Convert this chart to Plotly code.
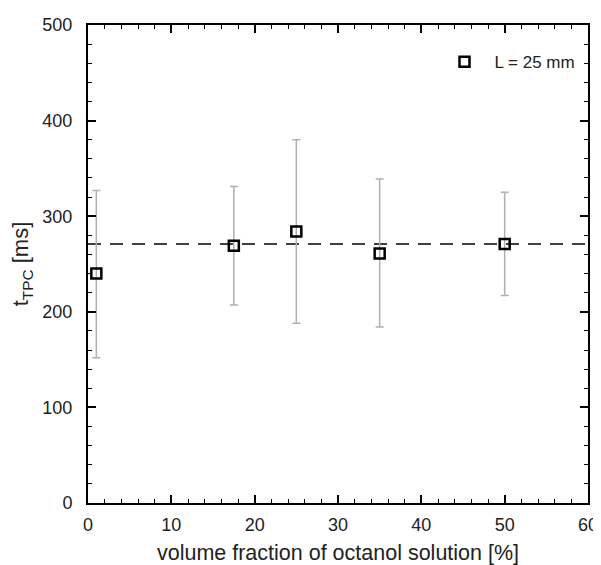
import plotly.graph_objects as go

x_vals = [1, 17.5, 25, 35, 50]
y_vals = [240, 269, 284, 261, 271]
err_hi = [327, 331, 380, 339, 325]
err_lo = [152, 207, 188, 184, 217]
mean_line = 271
x_range = [0, 60]
y_range = [0, 500]

err_plus = [h - y for h, y in zip(err_hi, y_vals)]
err_minus = [y - l for l, y in zip(err_lo, y_vals)]

FONT = "Liberation Sans, Arial, sans-serif"

fig = go.Figure()
fig.add_trace(go.Scatter(
    x=x_range, y=[mean_line, mean_line], mode="lines",
    line=dict(color="black", width=1.5, dash="13px,9px"),
    showlegend=False, hoverinfo="skip"))
fig.add_trace(go.Scatter(
    x=x_vals, y=y_vals, mode="markers", name="L = 25 mm",
    marker=dict(symbol="square-open", size=10, color="black", line=dict(width=2.5, color="black")),
    error_y=dict(type="data", symmetric=False, array=err_plus, arrayminus=err_minus,
                 color="#b0b0b0", thickness=1.5, width=4),
))

axis_common = dict(
    showline=True, linecolor="black", linewidth=2, mirror="allticks",
    ticks="inside", ticklen=8, tickwidth=1.5, tickcolor="black",
    showgrid=False, zeroline=False, automargin=False,
    tickfont=dict(family=FONT, size=18, color="#222"),
)

fig.update_layout(
    width=593, height=557,
    margin=dict(l=80, r=13, t=17, b=62),
    paper_bgcolor="white", plot_bgcolor="white",
    font=dict(family=FONT, color="#222"),
    xaxis=dict(range=x_range, dtick=10, ticklabelstandoff=4,
               minor=dict(dtick=2, ticks="inside", ticklen=4, tickwidth=1, tickcolor="black"),
               title=dict(text="volume fraction of octanol solution [%]", font=dict(size=21.5), standoff=24),
               **axis_common),
    yaxis=dict(range=y_range, dtick=100, ticklabelstandoff=10,
               minor=dict(dtick=20, ticks="inside", ticklen=4, tickwidth=1, tickcolor="black"),
               title=dict(text="t<sub>TPC</sub> [ms]", font=dict(size=22), standoff=14),
               **axis_common),
    legend=dict(x=0.985, y=0.96, xanchor="right", yanchor="top", itemwidth=50,
                bgcolor="rgba(0,0,0,0)", font=dict(size=17, color="#222")),
)

fig.write_html("out.html")
